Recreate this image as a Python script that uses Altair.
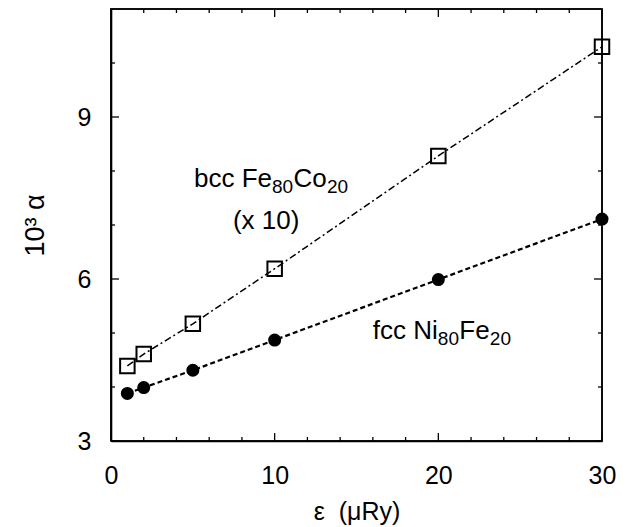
import altair as alt
import pandas as pd

# ---- data ----
eps = [1, 2, 5, 10, 20, 30]
bcc_alpha = [4.39, 4.61, 5.17, 6.19, 8.28, 10.30]   # bcc Fe80Co20 (x 10)
fcc_alpha = [3.88, 3.99, 4.31, 4.87, 5.99, 7.11]    # fcc Ni80Fe20

x_major = [0, 10, 20, 30]
x_minor = [2, 4, 6, 8, 12, 14, 16, 18, 22, 24, 26, 28]
y_major = [3, 6, 9]
y_minor = [4, 5, 7, 8, 10]

W, H = 491, 432
FONT = "Liberation Sans"
XMIN, XMAX, YMIN, YMAX = 0, 30, 3, 11

xs = alt.Scale(domain=[XMIN, XMAX], nice=False, zero=False)
ys = alt.Scale(domain=[YMIN, YMAX], nice=False, zero=False)

xaxis = alt.Axis(values=x_major, title="ε\u00a0\u00a0(μRy)", domain=True, domainColor="black",
                 domainWidth=1.6, ticks=False, tickSize=0,
                 grid=False, labelPadding=22, titlePadding=11, labelFontSize=25,
                 titleFontSize=25, labelFont=FONT, titleFont=FONT, labelColor="black",
                 titleColor="black", titleFontWeight="normal", labelFlush=False)
yaxis = alt.Axis(values=y_major, title="10³ α", domain=True, domainColor="black",
                 domainWidth=1.6, ticks=False, tickSize=0,
                 grid=False, labelPadding=20, titlePadding=28, labelFontSize=25,
                 titleFontSize=27, labelFont=FONT, titleFont=FONT, labelColor="black",
                 titleColor="black", titleFontWeight="normal", labelFlush=False)

df = pd.DataFrame({"x": eps, "bcc": bcc_alpha, "fcc": fcc_alpha})

X = alt.X("x:Q", scale=xs, axis=xaxis)

# ---- plot frame as a closed line along the domain edges ----
frame_df = pd.DataFrame({"x": [XMIN, XMAX, XMAX, XMIN, XMIN],
                         "bcc": [YMIN, YMIN, YMAX, YMAX, YMIN],
                         "k": [0, 1, 2, 3, 4]})
frame = alt.Chart(frame_df).mark_line(color="black", strokeWidth=1.6).encode(
    x=X, y=alt.Y("bcc:Q", scale=ys, axis=yaxis), order="k:Q")

bcc_line = alt.Chart(df).mark_line(color="black", strokeWidth=1.5, strokeDash=[7, 3, 2, 3]).encode(
    x=X, y=alt.Y("bcc:Q", scale=ys, axis=yaxis))
fcc_line = alt.Chart(df).mark_line(color="black", strokeWidth=2.2, strokeDash=[5, 3]).encode(
    x=X, y=alt.Y("fcc:Q", scale=ys, axis=yaxis))
bcc_pts = alt.Chart(df).mark_point(shape="square", filled=False, color="black", strokeWidth=2,
                                   size=210, opacity=1).encode(
    x=X, y=alt.Y("bcc:Q", scale=ys, axis=yaxis))
fcc_pts = alt.Chart(df).mark_point(shape="circle", filled=True, color="black", size=170,
                                   opacity=1).encode(
    x=X, y=alt.Y("fcc:Q", scale=ys, axis=yaxis))

one = pd.DataFrame({"a": [0]})

def XD(v):
    return alt.XDatum(v, type="quantitative", scale=xs, axis=xaxis)

def YD(v):
    return alt.YDatum(v, type="quantitative", scale=ys, axis=yaxis)

# ---- inward ticks on all four sides ----
def xticks(vals, length):
    d = pd.DataFrame({"x": vals})
    b = alt.Chart(d).mark_rule(color="black", strokeWidth=1.3).encode(
        x=X, y=alt.value(H), y2=alt.value(H - length))
    t = alt.Chart(d).mark_rule(color="black", strokeWidth=1.3).encode(
        x=X, y=alt.value(0), y2=alt.value(length))
    return [b, t]

def yticks(vals, length):
    d = pd.DataFrame({"bcc": vals})
    Y = alt.Y("bcc:Q", scale=ys, axis=yaxis)
    l = alt.Chart(d).mark_rule(color="black", strokeWidth=1.3).encode(
        y=Y, x=alt.value(0), x2=alt.value(length))
    r = alt.Chart(d).mark_rule(color="black", strokeWidth=1.3).encode(
        y=Y, x=alt.value(W), x2=alt.value(W - length))
    return [l, r]

ticks = xticks(x_major, 8) + xticks(x_minor, 4) + yticks(y_major, 8) + yticks(y_minor, 4)

# ---- annotations (label pieces with subscripts) ----
def piece(text, ax, ay, dx, dy, size):
    return alt.Chart(one).mark_text(text=text, align="left", baseline="alphabetic",
                                    font=FONT, fontSize=size, color="black", dx=dx, dy=dy).encode(
        x=XD(ax), y=YD(ay))

labels = [
    piece("bcc Fe", 5.07, 7.71, 0, 0, 26),
    piece("80", 5.07, 7.71, 78, 6, 19),
    piece("Co", 5.07, 7.71, 99.5, 0, 26),
    piece("20", 5.07, 7.71, 133, 6, 19),
    piece("(x 10)", 7.45, 6.93, 0, 0, 26),
    piece("fcc Ni", 16.0, 4.89, 0, 0, 26),
    piece("80", 16.0, 4.89, 65, 6, 19),
    piece("Fe", 16.0, 4.89, 86.5, 0, 26),
    piece("20", 16.0, 4.89, 117, 6, 19),
]

chart = alt.layer(frame, bcc_line, fcc_line, bcc_pts, fcc_pts, *ticks, *labels).properties(
    width=W, height=H,
    autosize=alt.AutoSizeParams(type="none"),
    padding={"left": 111, "top": 9, "right": 29, "bottom": 86},
).configure(background="white").configure_view(stroke="black", strokeWidth=1.5)

chart.save("out.html", embed_options={"renderer": "svg", "actions": False})
